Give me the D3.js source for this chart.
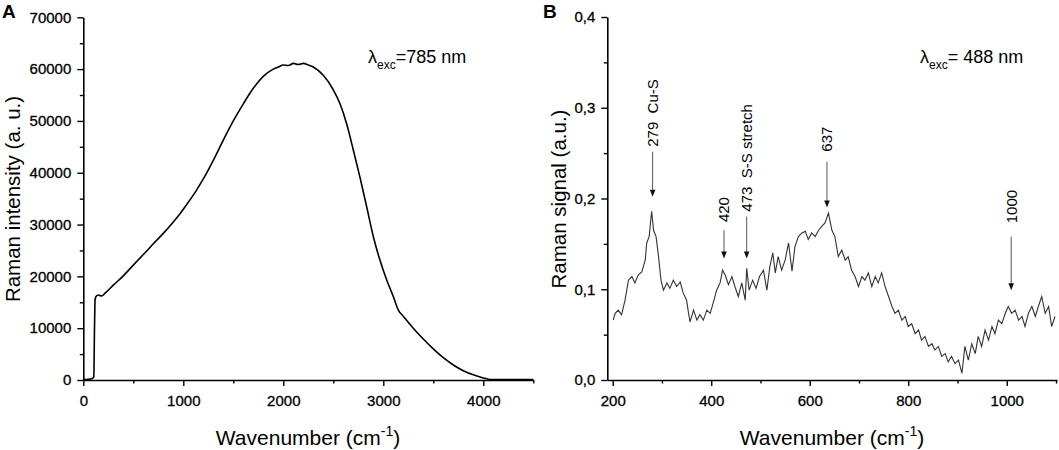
<!DOCTYPE html>
<html>
<head>
<meta charset="utf-8">
<script src="https://cdn.jsdelivr.net/npm/d3@7"></script>
<style>
  body { margin: 0; background: #fff; }
  svg { display: block; font-family: "Liberation Sans", Arial, sans-serif; }
  .tick text { font-size: 15px; fill: #000; stroke: #000; stroke-width: 0.3px; }
  .pre { white-space: pre; }
</style>
</head>
<body>
<svg id="chart" width="1059" height="450"></svg>
<script>
// ---------- Panel A data (lambda_exc = 785 nm) ----------
const waveA = [0, 50, 90, 105, 112, 118, 127, 150, 183, 220, 300, 400, 467, 550, 634, 700, 800, 900, 967, 1050,
  1134, 1200, 1300, 1400, 1500, 1600, 1700, 1800, 1900, 1950, 2000, 2050, 2100, 2150, 2200, 2250, 2300, 2400, 2500,
  2567, 2634, 2700, 2767, 2834, 2900, 2967, 3034, 3100, 3150, 3200, 3300, 3400, 3500, 3600, 3700, 3800, 3900, 4000,
  4050, 4100, 4500];
const intensityA = [100, 150, 300, 600, 10000, 15500, 16100, 16400, 16200, 16800, 18300, 20100, 21500, 23200, 24900,
  26300, 28300, 30500, 32100, 34300, 36700, 38800, 42400, 46300, 50000, 53300, 56300, 58600, 60000, 60400, 60800,
  60700, 61100, 60900, 61100, 60800, 60400, 58800, 56000, 53300, 49400, 44400, 39100, 33400, 27700, 23100, 19300,
  16100, 13500, 12300, 10000, 7900, 6000, 4300, 2900, 1800, 1000, 400, 150, 80, 80];
const xTicksA = [0, 1000, 2000, 3000, 4000];
const xMinorA = [500, 1500, 2500, 3500, 4500];
const yTicksA = [0, 10000, 20000, 30000, 40000, 50000, 60000, 70000];
const yMinorA = [5000, 15000, 25000, 35000, 45000, 55000, 65000];

// ---------- Panel B data (lambda_exc = 488 nm) ----------
const waveB = [201, 205, 211, 218, 225, 232, 239, 245, 252, 259, 266, 269, 274, 279, 283, 288, 293, 298, 303, 310,
  316, 323, 330, 337, 343, 350, 354, 357, 364, 371, 377, 384, 391, 398, 404, 411, 418, 423, 428, 435, 442, 448, 455,
  462, 469, 472, 477, 484, 491, 498, 506, 513, 519, 525, 530, 536, 543, 550, 557, 564, 570, 577, 584, 591, 597, 604,
  611, 618, 624, 631, 638, 645, 651, 658, 665, 672, 678, 685, 692, 699, 706, 712, 719, 726, 733, 739, 746, 753, 760,
  767, 773, 780, 787, 794, 800, 807, 814, 821, 827, 834, 841, 848, 854, 861, 868, 875, 881, 888, 895, 902, 909, 915,
  922, 929, 936, 942, 949, 956, 963, 970, 976, 983, 990, 997, 1003, 1010, 1017, 1024, 1031, 1037, 1044, 1051, 1058,
  1064, 1071, 1078, 1085, 1091, 1098];
const signalB = [0.066, 0.0735, 0.077, 0.072, 0.088, 0.110, 0.114, 0.107, 0.116, 0.119, 0.132, 0.151, 0.158, 0.186,
  0.165, 0.158, 0.136, 0.110, 0.099, 0.107, 0.101, 0.110, 0.103, 0.108, 0.096, 0.088, 0.0735, 0.064, 0.077, 0.066,
  0.072, 0.066, 0.077, 0.0735, 0.085, 0.099, 0.107, 0.121, 0.116, 0.105, 0.114, 0.103, 0.092, 0.107, 0.088, 0.123,
  0.099, 0.110, 0.101, 0.114, 0.121, 0.099, 0.125, 0.140, 0.118, 0.136, 0.121, 0.132, 0.151, 0.120, 0.147, 0.158,
  0.162, 0.164, 0.155, 0.162, 0.158, 0.165, 0.169, 0.173, 0.184, 0.165, 0.158, 0.136, 0.143, 0.132, 0.136, 0.121,
  0.114, 0.103, 0.114, 0.110, 0.118, 0.103, 0.114, 0.107, 0.118, 0.103, 0.092, 0.081, 0.0735, 0.077, 0.066, 0.070,
  0.059, 0.062, 0.051, 0.055, 0.044, 0.048, 0.037, 0.040, 0.033, 0.037, 0.026, 0.029, 0.020, 0.026, 0.018, 0.022,
  0.0074, 0.037, 0.022, 0.040, 0.029, 0.048, 0.037, 0.055, 0.044, 0.059, 0.051, 0.066, 0.062, 0.0735, 0.081, 0.0735,
  0.077, 0.066, 0.070, 0.059, 0.0735, 0.081, 0.070, 0.081, 0.092, 0.0735, 0.081, 0.059, 0.070];
const xTicksB = [200, 400, 600, 800, 1000];
const xMinorB = [300, 500, 700, 900, 1100];
const yTicksB = [0, 0.1, 0.2, 0.3, 0.4];
const yMinorB = [0.05, 0.15, 0.25, 0.35];

// peak annotations (wavenumber, label, arrow tip / arrow top / label start in signal units)
const peakPos = [281, 426, 472, 635, 1009];
const peakLabels = ["279  Cu-S", "420", "473  S-S stretch", "637", "1000"];
const peakTip = [0.202, 0.134, 0.134, 0.190, 0.099];
const peakTop = [0.2516, 0.165, 0.180, 0.2406, 0.158];
const peakLabelAt = [0.257, 0.174, 0.1855, 0.2516, 0.1727];

// ---------- drawing ----------
const svg = d3.select("#chart");
svg.append("rect").attr("width", 1059).attr("height", 450).attr("fill", "#fff");

function drawAxes(g, x, y, xt, xm, yt, ym, yfmt) {
  const xa = g.append("g").attr("transform", `translate(0,${y.range()[0]})`)
    .call(d3.axisBottom(x).tickValues(xt).tickSize(6).tickPadding(9).tickSizeOuter(0).tickFormat(d3.format("d")));
  xa.append("g").call(d3.axisBottom(x).tickValues(xm).tickSize(3.5).tickFormat("").tickSizeOuter(0))
    .select(".domain").remove();
  const ya = g.append("g").attr("transform", `translate(${x.range()[0]},0)`)
    .call(d3.axisLeft(y).tickValues(yt).tickSize(6).tickPadding(6).tickSizeOuter(0).tickFormat(yfmt));
  ya.append("g").call(d3.axisLeft(y).tickValues(ym).tickSize(3.5).tickFormat("").tickSizeOuter(0))
    .select(".domain").remove();
  g.selectAll(".domain").attr("stroke", "#000").attr("stroke-width", 1.6);
  g.selectAll(".tick line").attr("stroke", "#000").attr("stroke-width", 1.4);
}

function xTitle(g, cx) {
  const t = g.append("text").attr("x", cx).attr("y", 445).attr("text-anchor", "middle")
    .attr("font-size", 21).attr("fill", "#000");
  t.append("tspan").text("Wavenumber (cm");
  t.append("tspan").attr("font-size", 14).attr("dy", -9).text("-1");
  t.append("tspan").attr("dy", 9).text(")");
}

function lambda(g, x, y, rest) {
  const t = g.append("text").attr("x", x).attr("y", y).attr("font-size", 18).attr("fill", "#000");
  t.append("tspan").text("λ");
  t.append("tspan").attr("font-size", 12).attr("dy", 6).text("exc");
  t.append("tspan").attr("dy", -6).attr("class", "pre").text(rest);
}

// Panel A
const gA = svg.append("g");
const xA = d3.scaleLinear().domain([0, 4500]).range([83.3, 533.3]);
const yA = d3.scaleLinear().domain([0, 70000]).range([380, 17.3]);
drawAxes(gA, xA, yA, xTicksA, xMinorA, yTicksA, yMinorA, d3.format("d"));
gA.append("path")
  .datum(waveA.map((w, i) => [w, intensityA[i]]))
  .attr("fill", "none").attr("stroke", "#000").attr("stroke-width", 1.6)
  .attr("d", d3.line().x(d => xA(d[0])).y(d => yA(d[1])).curve(d3.curveMonotoneX));
xTitle(gA, 308);
gA.append("text").attr("transform", "translate(20,199) rotate(-90)").attr("text-anchor", "middle")
  .attr("font-size", 20.5).attr("fill", "#000").text("Raman intensity (a. u.)");
gA.append("text").attr("x", 2).attr("y", 18).attr("font-size", 19).attr("font-weight", "bold").text("A");
lambda(gA, 368, 63, "=785 nm");

// Panel B
const gB = svg.append("g");
const xB = d3.scaleLinear().domain([189, 1102]).range([607.3, 1057]);
const yB = d3.scaleLinear().domain([0, 0.4]).range([380, 17]);
drawAxes(gB, xB, yB, xTicksB, xMinorB, yTicksB, yMinorB, d => d3.format(".1f")(d).replace(".", ","));
gB.append("path")
  .datum(waveB.map((w, i) => [w, signalB[i]]))
  .attr("fill", "none").attr("stroke", "#333").attr("stroke-width", 1.1)
  .attr("d", d3.line().x(d => xB(d[0])).y(d => yB(d[1])));
xTitle(gB, 832);
gB.append("text").attr("transform", "translate(566,199) rotate(-90)").attr("text-anchor", "middle")
  .attr("font-size", 20.5).attr("fill", "#000").text("Raman signal (a.u.)");
gB.append("text").attr("x", 543).attr("y", 18).attr("font-size", 19).attr("font-weight", "bold").text("B");
lambda(gB, 920, 63, "= 488 nm");

// peak arrows
peakPos.forEach((p, i) => {
  const px = xB(p);
  const tip = yB(peakTip[i]);
  const top = yB(peakTop[i]);
  gB.append("line").attr("x1", px).attr("x2", px).attr("y1", top).attr("y2", tip - 5)
    .attr("stroke", "#555").attr("stroke-width", 1);
  gB.append("path").attr("d", `M${px - 2.8},${tip - 7}L${px + 2.8},${tip - 7}L${px},${tip}Z`).attr("fill", "#111");
  gB.append("text").attr("class", "pre")
    .attr("transform", `translate(${px + 5.4},${yB(peakLabelAt[i])}) rotate(-90)`)
    .attr("font-size", 15).attr("fill", "#000").text(peakLabels[i]);
});
</script>
</body>
</html>
